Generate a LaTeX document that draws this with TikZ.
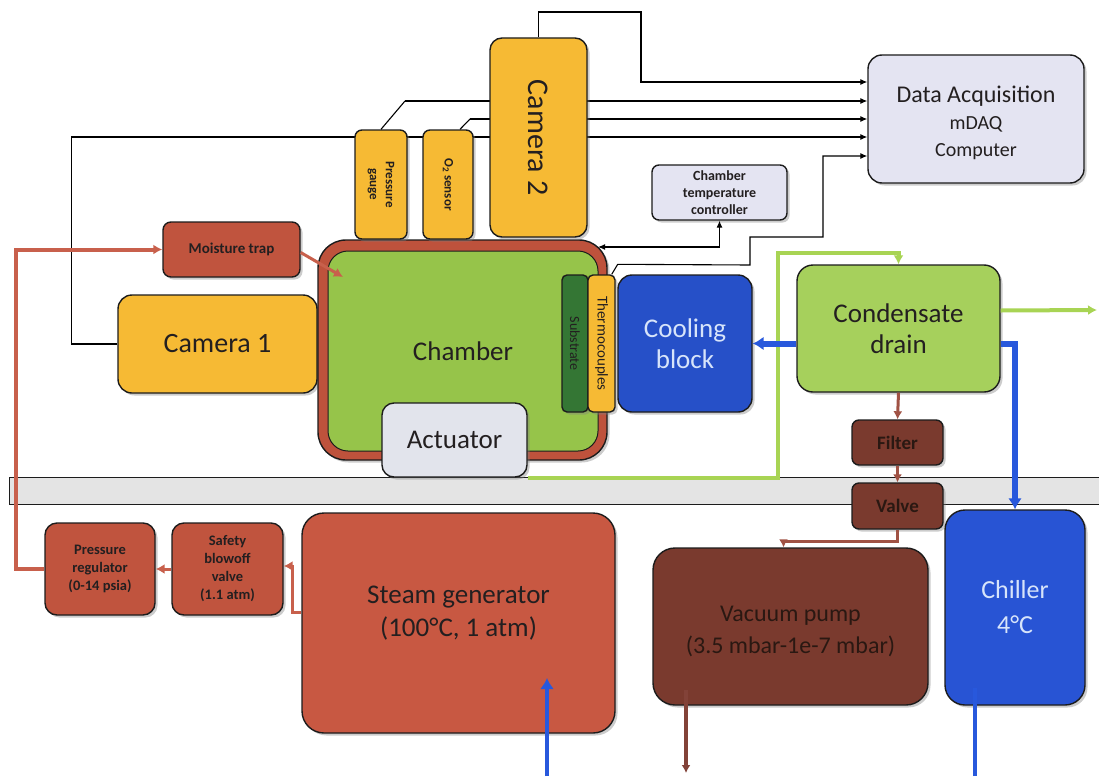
\documentclass[tikz,border=0pt]{standalone}
\usepackage{fontspec}
\setmainfont{Carlito}
\usepackage{graphicx}
\usetikzlibrary{arrows.meta,shadows}

\definecolor{camY}{RGB}{246,186,52}
\definecolor{chG}{RGB}{150,196,74}
\definecolor{ringR}{RGB}{190,82,60}
\definecolor{cdG}{RGB}{166,208,92}
\definecolor{pipeG}{RGB}{168,212,84}
\definecolor{coolB}{RGB}{38,80,200}
\definecolor{chillB}{RGB}{40,84,212}
\definecolor{lightT}{RGB}{215,228,250}
\definecolor{subG}{RGB}{52,118,52}
\definecolor{redB}{RGB}{192,84,62}
\definecolor{steamR}{RGB}{200,88,66}
\definecolor{brownB}{RGB}{122,58,46}
\definecolor{lav}{RGB}{228,228,242}
\definecolor{actG}{RGB}{226,228,236}
\definecolor{bandG}{RGB}{228,228,228}
\definecolor{txt}{RGB}{35,31,32}
\definecolor{darkT}{RGB}{42,24,18}
\definecolor{pipeR}{RGB}{200,96,76}
\definecolor{pipeBr}{RGB}{160,82,68}
\definecolor{pipeBd}{RGB}{130,66,56}
\definecolor{pipeB}{RGB}{40,88,220}
\definecolor{outl}{RGB}{28,28,28}

\tikzset{
  box/.style={draw=outl, line width=1.4pt, rounded corners=#1, inner sep=0pt, align=center, text=txt,
    drop shadow={shadow xshift=2.5pt, shadow yshift=-2.5pt, opacity=0.4}},
  box/.default=10pt,
  sig/.style={draw=black, line width=1.1pt, -{Latex[length=7pt,width=6pt]}},
  redpipe/.style={draw=pipeR, line width=4pt, -{Latex[length=9pt,width=10pt]}},
  greenpipe/.style={draw=pipeG, line width=4pt, -{Latex[length=9pt,width=10pt]}},
  bluepipe/.style={draw=pipeB, line width=6pt, -{Latex[length=11pt,width=14pt]}},
  brownpipe/.style={draw=pipeBr, line width=3pt, -{Latex[length=8pt,width=9pt]}},
}

\begin{document}
\begin{tikzpicture}[x=1pt,y=-1pt]
\useasboundingbox (0,0) rectangle (1099,776);
\fill[white] (0,0) rectangle (1099,776);

% band
\node[draw=outl, line width=1pt, fill=bandG, minimum width=1092pt, minimum height=27pt, inner sep=0pt] (band) at (555,490.5) {};

% coordinates for free ends / bends
\coordinate (gout) at (1097,310);
\coordinate (chin) at (343,277);
\coordinate (chport) at (598,247);
\coordinate (sgbot) at (547,776);
\coordinate (sgin) at (547,678);
\coordinate (chbot) at (975,776);
\coordinate (chin2) at (975,688);
\coordinate (vpin) at (686,690);
\coordinate (vpout) at (686,773);

% DAQ
\node[box=14pt, fill=lav, minimum width=216pt, minimum height=128pt, text height=79pt, font=\fontsize{20}{27}\selectfont] (daq) at (976,119)
  {{\fontsize{24}{27}\selectfont Data Acquisition}\\mDAQ\\Computer};

% camera 1 and chamber temp controller
\node[box=14pt, fill=camY, minimum width=199pt, minimum height=98pt, font=\fontsize{28}{32}\selectfont] (cam1) at (217.5,344) {Camera 1};
\node[box=7pt, fill=lav, minimum width=135pt, minimum height=55pt, font=\bfseries\fontsize{14}{17}\selectfont] (ctc) at (719.5,192.5) {Chamber\\temperature\\controller};

% chamber
\node[box=28pt, fill=ringR, minimum width=289pt, minimum height=220pt] (chout) at (462.5,350) {};
\node[draw=outl, line width=1pt, rounded corners=20pt, fill=chG, minimum width=270pt, minimum height=200pt, inner sep=0pt, text=txt, font=\fontsize{27}{32}\selectfont] (ch) at (463,351) {Chamber};
\node[box=5pt, fill=subG, minimum width=26pt, minimum height=137pt] (sub) at (575,343.5) {\rotatebox{-90}{\fontsize{14}{16}\selectfont\color{txt}Substrate}};
\node[box=5pt, fill=camY, minimum width=27pt, minimum height=137pt] (tc) at (601.5,343.5) {\rotatebox{-90}{\fontsize{15}{17}\selectfont Thermocouples}};
\node[box=12pt, fill=actG, minimum width=145pt, minimum height=74pt, font=\fontsize{27}{32}\selectfont] (act) at (454.5,440) {Actuator};

% signal lines (behind the sensors and camera 2)
\draw[sig] (cam1.west) -- ++(-46,0) |- ([yshift=-18pt]daq.west);
\draw[sig] (405,101) -- ([yshift=18pt]daq.west);
\draw[sig] (470,119) -- (daq.west);
\draw[sig] ([xshift=-4pt]tc.north east) -- ++(6,-10) -- (750,265) -- (750,237) -- (823,237) |- ([yshift=-37pt]daq.west);

% sensors and camera 2
\node[box=12pt, fill=camY, minimum width=97pt, minimum height=199pt] (cam2) at (538.5,137.5) {\rotatebox{-90}{\fontsize{30}{34}\selectfont Camera 2}};
\node[box=7pt, fill=camY, minimum width=52pt, minimum height=109pt] (pg) at (381,184.5)
  {\rotatebox{-90}{\bfseries\fontsize{13}{16}\selectfont\begin{tabular}{@{}c@{}}Pressure\\gauge\end{tabular}}};
\node[box=7pt, fill=camY, minimum width=50pt, minimum height=109pt] (o2) at (448,184.5)
  {\rotatebox{-90}{\bfseries\fontsize{13}{16}\selectfont O\textsubscript{2} sensor}};

\draw[sig, -] (pg.north) -- (405,101);
\draw[sig, -] ([xshift=12pt]o2.north) -- (470,119);
\draw[sig] (cam2.north) |- (641,12) |- ([yshift=37pt]daq.west);
\draw[sig, {Latex[length=7pt,width=6pt]}-{Latex[length=7pt,width=6pt]}] (chport) -| (ctc.south);

% other boxes
\node[box=8pt, fill=redB, minimum width=137pt, minimum height=55pt, font=\bfseries\fontsize{15}{18}\selectfont] (mtrap) at (231.5,249.5) {Moisture trap};
\node[box=14pt, fill=coolB, minimum width=134pt, minimum height=137pt, text=lightT, font=\fontsize{27}{31}\selectfont] (cool) at (685,343.5) {Cooling\\block};
\node[box=16pt, fill=cdG, minimum width=203pt, minimum height=127pt, font=\fontsize{27}{31}\selectfont] (cd) at (898.5,328.5) {Condensate\\drain};
\node[box=7pt, fill=brownB, minimum width=91pt, minimum height=45pt, text=darkT, font=\bfseries\fontsize{19}{22}\selectfont] (filter) at (897.5,442.5) {Filter};
\node[box=7pt, fill=brownB, minimum width=91pt, minimum height=46pt, text=darkT, font=\bfseries\fontsize{19}{22}\selectfont] (valve) at (897.5,506) {Valve};
\node[box=12pt, fill=redB, minimum width=110pt, minimum height=92pt, font=\bfseries\fontsize{14.5}{18}\selectfont] (preg) at (100,569) {Pressure\\regulator\\(0-14 psia)};
\node[box=12pt, fill=redB, minimum width=111pt, minimum height=92pt, font=\bfseries\fontsize{14.5}{18}\selectfont] (safety) at (227.5,569) {Safety\\blowoff\\valve\\(1.1 atm)};
\node[box=22pt, fill=steamR, minimum width=313pt, minimum height=220pt, text depth=23pt, font=\fontsize{27}{33}\selectfont] (steam) at (458.5,623) {Steam generator\\(100°C, 1 atm)};
\node[box=22pt, fill=brownB, minimum width=275pt, minimum height=157pt, text height=57pt, text=darkT, font=\fontsize{24}{32}\selectfont] (pump) at (790.5,626.5) {Vacuum pump\\(3.5 mbar-1e-7 mbar)};
\node[box=20pt, fill=chillB, minimum width=140pt, minimum height=195pt, text=lightT, font=\fontsize{26}{35}\selectfont] (chiller) at (1015,607.5) {Chiller\\4°C};

% pipes
\draw[redpipe] (preg.west) -- ++(-28,0) |- (mtrap.west);
\draw[redpipe, line width=3pt] ([yshift=-3pt]mtrap.east) -- (chin);
\draw[redpipe, line width=3pt] (safety.west) -- (preg.east);
\draw[redpipe, line width=3pt] ([yshift=11pt]steam.west) -- ++(-9,0) |- ([yshift=3pt]safety.east);

\draw[greenpipe] (act.south east) -| (778,253) -| (cd.north);
\draw[greenpipe] ([yshift=18pt]cd.east) -- (gout);

\draw[bluepipe] (cd.west |- cool.east) -- (cool.east);
\draw[bluepipe] (cd.east |- cool.east) -| (chiller.north);
\draw[bluepipe, line width=4pt] (sgbot) -- (sgin);
\draw[draw=pipeB, line width=4pt] (chbot) -- (chin2);

\draw[brownpipe] (cd.south) -- (filter.north);
\draw[brownpipe] (filter.south) -- (valve.north);
\draw[brownpipe] (valve.south) -- ++(0,12) -| ([xshift=-7pt]pump.north);
\draw[brownpipe, draw=pipeBd, line width=4pt] (vpin) -- (vpout);
\end{tikzpicture}
\end{document}
